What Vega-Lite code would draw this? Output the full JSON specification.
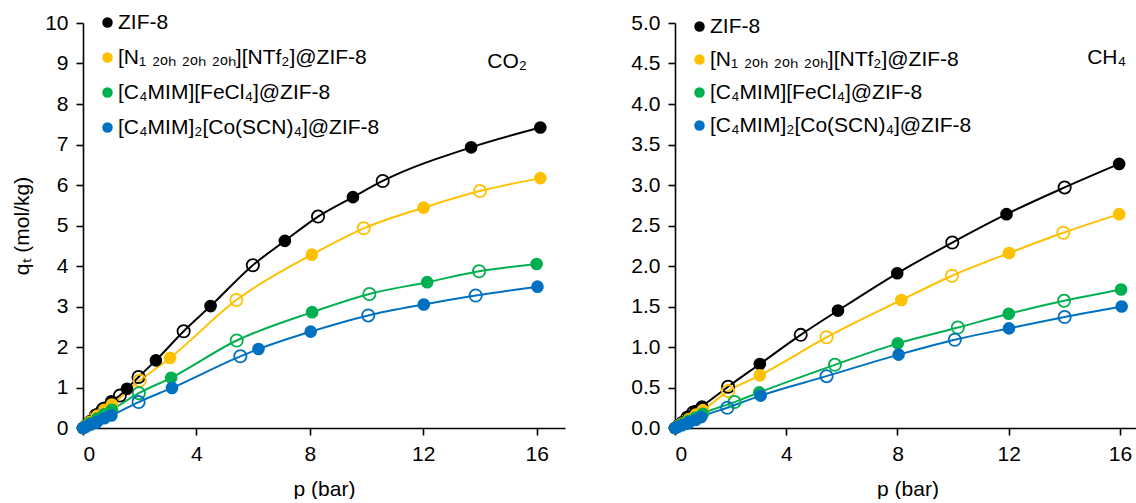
{
  "$schema": "https://vega.github.io/schema/vega-lite/v6.json",
  "padding": {"left": 11, "top": 12, "right": 0, "bottom": 0},
  "background": "white",
  "config": {
    "font": "Liberation Sans",
    "view": {"stroke": null},
    "axis": {
      "grid": false,
      "domainColor": "black",
      "domainWidth": 1.6,
      "tickColor": "black",
      "tickWidth": 1.6,
      "tickSize": 7,
      "labelFontSize": 21,
      "labelColor": "black",
      "labelPadding": 8,
      "titleFontSize": 21,
      "titleFontWeight": "normal",
      "titleColor": "black"
    }
  },
  "datasets": {
    "co2": [
      {"s": "ZIF-8", "b": "a", "p": 0, "q": 0},
      {"s": "ZIF-8", "b": "a", "p": 0.1, "q": 0.07},
      {"s": "ZIF-8", "b": "a", "p": 0.25, "q": 0.17},
      {"s": "ZIF-8", "b": "d", "p": 0.45, "q": 0.31},
      {"s": "ZIF-8", "b": "a", "p": 0.5, "q": 0.34},
      {"s": "ZIF-8", "b": "d", "p": 0.7, "q": 0.46},
      {"s": "ZIF-8", "b": "a", "p": 0.75, "q": 0.5},
      {"s": "ZIF-8", "b": "a", "p": 1.0, "q": 0.66},
      {"s": "ZIF-8", "b": "d", "p": 1.3, "q": 0.8},
      {"s": "ZIF-8", "b": "a", "p": 1.55, "q": 0.97},
      {"s": "ZIF-8", "b": "d", "p": 1.96, "q": 1.26},
      {"s": "ZIF-8", "b": "a", "p": 2.57, "q": 1.67},
      {"s": "ZIF-8", "b": "d", "p": 3.55, "q": 2.39},
      {"s": "ZIF-8", "b": "a", "p": 4.5, "q": 3.01},
      {"s": "ZIF-8", "b": "d", "p": 5.99, "q": 4.02},
      {"s": "ZIF-8", "b": "a", "p": 7.12, "q": 4.62},
      {"s": "ZIF-8", "b": "d", "p": 8.29, "q": 5.22},
      {"s": "ZIF-8", "b": "a", "p": 9.52, "q": 5.7},
      {"s": "ZIF-8", "b": "d", "p": 10.57, "q": 6.1},
      {"s": "ZIF-8", "b": "a", "p": 13.69, "q": 6.93},
      {"s": "ZIF-8", "b": "a", "p": 16.13, "q": 7.42},
      {"s": "N", "b": "a", "p": 0, "q": 0},
      {"s": "N", "b": "a", "p": 0.1, "q": 0.06},
      {"s": "N", "b": "a", "p": 0.25, "q": 0.15},
      {"s": "N", "b": "d", "p": 0.45, "q": 0.27},
      {"s": "N", "b": "a", "p": 0.5, "q": 0.3},
      {"s": "N", "b": "a", "p": 0.75, "q": 0.45},
      {"s": "N", "b": "a", "p": 1.02, "q": 0.58},
      {"s": "N", "b": "d", "p": 2.0, "q": 1.17},
      {"s": "N", "b": "a", "p": 3.07, "q": 1.73},
      {"s": "N", "b": "d", "p": 5.41, "q": 3.16},
      {"s": "N", "b": "a", "p": 8.07, "q": 4.28},
      {"s": "N", "b": "d", "p": 9.9, "q": 4.93},
      {"s": "N", "b": "a", "p": 12.01, "q": 5.44},
      {"s": "N", "b": "d", "p": 14.0, "q": 5.85},
      {"s": "N", "b": "a", "p": 16.13, "q": 6.17},
      {"s": "Fe", "b": "a", "p": 0, "q": 0},
      {"s": "Fe", "b": "a", "p": 0.1, "q": 0.05},
      {"s": "Fe", "b": "a", "p": 0.25, "q": 0.12},
      {"s": "Fe", "b": "d", "p": 0.45, "q": 0.21},
      {"s": "Fe", "b": "a", "p": 0.5, "q": 0.23},
      {"s": "Fe", "b": "a", "p": 0.75, "q": 0.34},
      {"s": "Fe", "b": "a", "p": 1.02, "q": 0.45},
      {"s": "Fe", "b": "d", "p": 1.97, "q": 0.86},
      {"s": "Fe", "b": "a", "p": 3.11, "q": 1.24},
      {"s": "Fe", "b": "d", "p": 5.42, "q": 2.16},
      {"s": "Fe", "b": "a", "p": 8.08, "q": 2.86},
      {"s": "Fe", "b": "d", "p": 10.1, "q": 3.31},
      {"s": "Fe", "b": "a", "p": 12.14, "q": 3.6},
      {"s": "Fe", "b": "d", "p": 13.97, "q": 3.87},
      {"s": "Fe", "b": "a", "p": 16.0, "q": 4.05},
      {"s": "Co", "b": "a", "p": 0, "q": 0},
      {"s": "Co", "b": "a", "p": 0.1, "q": 0.03},
      {"s": "Co", "b": "a", "p": 0.25, "q": 0.08},
      {"s": "Co", "b": "d", "p": 0.45, "q": 0.14},
      {"s": "Co", "b": "a", "p": 0.5, "q": 0.16},
      {"s": "Co", "b": "a", "p": 0.75, "q": 0.24},
      {"s": "Co", "b": "a", "p": 1.0, "q": 0.31},
      {"s": "Co", "b": "d", "p": 1.96, "q": 0.64},
      {"s": "Co", "b": "a", "p": 3.14, "q": 0.99},
      {"s": "Co", "b": "d", "p": 5.55, "q": 1.77},
      {"s": "Co", "b": "a", "p": 6.19, "q": 1.95},
      {"s": "Co", "b": "a", "p": 8.03, "q": 2.38},
      {"s": "Co", "b": "d", "p": 10.06, "q": 2.78},
      {"s": "Co", "b": "a", "p": 12.02, "q": 3.05},
      {"s": "Co", "b": "d", "p": 13.85, "q": 3.27},
      {"s": "Co", "b": "a", "p": 16.03, "q": 3.49}
    ],
    "ch4": [
      {"s": "ZIF-8", "b": "a", "p": 0, "q": 0},
      {"s": "ZIF-8", "b": "a", "p": 0.1, "q": 0.03},
      {"s": "ZIF-8", "b": "a", "p": 0.25, "q": 0.07},
      {"s": "ZIF-8", "b": "d", "p": 0.45, "q": 0.13},
      {"s": "ZIF-8", "b": "a", "p": 0.5, "q": 0.14},
      {"s": "ZIF-8", "b": "d", "p": 0.65, "q": 0.19},
      {"s": "ZIF-8", "b": "a", "p": 0.75, "q": 0.21},
      {"s": "ZIF-8", "b": "a", "p": 0.97, "q": 0.266},
      {"s": "ZIF-8", "b": "d", "p": 1.91, "q": 0.51},
      {"s": "ZIF-8", "b": "a", "p": 3.05, "q": 0.79},
      {"s": "ZIF-8", "b": "d", "p": 4.52, "q": 1.15},
      {"s": "ZIF-8", "b": "a", "p": 5.86, "q": 1.45},
      {"s": "ZIF-8", "b": "a", "p": 7.99, "q": 1.91},
      {"s": "ZIF-8", "b": "d", "p": 9.97, "q": 2.29},
      {"s": "ZIF-8", "b": "a", "p": 11.92, "q": 2.64},
      {"s": "ZIF-8", "b": "d", "p": 14.01, "q": 2.97},
      {"s": "ZIF-8", "b": "a", "p": 15.97, "q": 3.26},
      {"s": "N", "b": "a", "p": 0, "q": 0},
      {"s": "N", "b": "a", "p": 0.1, "q": 0.025},
      {"s": "N", "b": "a", "p": 0.25, "q": 0.055},
      {"s": "N", "b": "d", "p": 0.45, "q": 0.1},
      {"s": "N", "b": "a", "p": 0.5, "q": 0.11},
      {"s": "N", "b": "a", "p": 0.75, "q": 0.165},
      {"s": "N", "b": "a", "p": 1.0, "q": 0.22},
      {"s": "N", "b": "d", "p": 1.91, "q": 0.455},
      {"s": "N", "b": "a", "p": 3.05, "q": 0.65},
      {"s": "N", "b": "d", "p": 5.45, "q": 1.12},
      {"s": "N", "b": "a", "p": 8.14, "q": 1.58},
      {"s": "N", "b": "d", "p": 9.96, "q": 1.88},
      {"s": "N", "b": "a", "p": 12.01, "q": 2.16},
      {"s": "N", "b": "d", "p": 13.96, "q": 2.41},
      {"s": "N", "b": "a", "p": 15.97, "q": 2.64},
      {"s": "Fe", "b": "a", "p": 0, "q": 0},
      {"s": "Fe", "b": "a", "p": 0.1, "q": 0.018},
      {"s": "Fe", "b": "a", "p": 0.25, "q": 0.045},
      {"s": "Fe", "b": "d", "p": 0.45, "q": 0.08},
      {"s": "Fe", "b": "a", "p": 0.5, "q": 0.09},
      {"s": "Fe", "b": "a", "p": 0.75, "q": 0.13},
      {"s": "Fe", "b": "a", "p": 1.0, "q": 0.175},
      {"s": "Fe", "b": "d", "p": 2.14, "q": 0.32},
      {"s": "Fe", "b": "a", "p": 3.03, "q": 0.44},
      {"s": "Fe", "b": "d", "p": 5.75, "q": 0.78},
      {"s": "Fe", "b": "a", "p": 8.01, "q": 1.045},
      {"s": "Fe", "b": "d", "p": 10.17, "q": 1.24},
      {"s": "Fe", "b": "a", "p": 12.0, "q": 1.41},
      {"s": "Fe", "b": "d", "p": 13.99, "q": 1.57},
      {"s": "Fe", "b": "a", "p": 16.04, "q": 1.71},
      {"s": "Co", "b": "a", "p": 0, "q": 0},
      {"s": "Co", "b": "a", "p": 0.1, "q": 0.015},
      {"s": "Co", "b": "a", "p": 0.25, "q": 0.035},
      {"s": "Co", "b": "d", "p": 0.45, "q": 0.063},
      {"s": "Co", "b": "a", "p": 0.5, "q": 0.07},
      {"s": "Co", "b": "a", "p": 0.75, "q": 0.1},
      {"s": "Co", "b": "a", "p": 0.94, "q": 0.135},
      {"s": "Co", "b": "d", "p": 1.88, "q": 0.25},
      {"s": "Co", "b": "a", "p": 3.08, "q": 0.4},
      {"s": "Co", "b": "d", "p": 5.45, "q": 0.64},
      {"s": "Co", "b": "a", "p": 8.04, "q": 0.906},
      {"s": "Co", "b": "d", "p": 10.06, "q": 1.09},
      {"s": "Co", "b": "a", "p": 12.01, "q": 1.23},
      {"s": "Co", "b": "d", "p": 14.01, "q": 1.37},
      {"s": "Co", "b": "a", "p": 16.06, "q": 1.5}
    ]
  },
  "spacing": 65,
  "resolve": {"scale": {"color": "independent", "stroke": "independent", "x": "independent", "y": "independent"}, "legend": {"color": "independent", "stroke": "independent"}},
  "hconcat": [
    {
      "width": 482,
      "height": 405,
      "layer": [
        {
          "data": {"name": "co2"},
          "mark": {"type": "line", "interpolate": "monotone", "strokeWidth": 2},
          "encoding": {
            "x": {"field": "p", "type": "quantitative", "scale": {"domain": [0, 17], "nice": false}, "axis": {"values": [0, 4, 8, 12, 16], "title": "p (bar)", "titlePadding": 14}},
            "y": {"field": "q", "type": "quantitative", "scale": {"domain": [0, 10], "nice": false}, "axis": {"values": [0, 1, 2, 3, 4, 5, 6, 7, 8, 9, 10], "title": "qₜ (mol/kg)", "titlePadding": 12}},
            "stroke": {"field": "s", "type": "nominal", "scale": {"domain": ["Co", "Fe", "N", "ZIF-8"], "range": ["#0070C0", "#00B050", "#FFC000", "#000000"]}, "legend": null},
            "order": {"field": "p", "type": "quantitative"}
          }
        },
        {
          "data": {"name": "co2"},
          "transform": [{"filter": "datum.b == 'd'"}],
          "mark": {"type": "point", "filled": false, "size": 150, "strokeWidth": 1.8, "opacity": 1},
          "encoding": {
            "x": {"field": "p", "type": "quantitative"},
            "y": {"field": "q", "type": "quantitative"},
            "stroke": {"field": "s", "type": "nominal", "scale": {"domain": ["Co", "Fe", "N", "ZIF-8"], "range": ["#0070C0", "#00B050", "#FFC000", "#000000"]}, "legend": null}
          }
        },
        {
          "data": {"name": "co2"},
          "transform": [{"filter": "datum.b == 'a'"}],
          "mark": {"type": "point", "filled": true, "size": 160, "opacity": 1},
          "encoding": {
            "x": {"field": "p", "type": "quantitative"},
            "y": {"field": "q", "type": "quantitative"},
            "color": {"field": "s", "type": "nominal", "scale": {"domain": ["ZIF-8", "N", "Fe", "Co"], "range": ["#000000", "#FFC000", "#00B050", "#0070C0"]},
              "legend": {"orient": "none", "legendX": 14, "legendY": -11, "title": null, "padding": 0, "labelFontSize": 21, "labelColor": "black", "labelLimit": 500, "symbolSize": 110, "symbolType": "circle", "rowPadding": 13, "labelOffset": 0,
                "labelExpr": "datum.label == 'N' ? ' [N₁ ₂ₒₕ ₂ₒₕ ₂ₒₕ][NTf₂]@ZIF-8' : datum.label == 'Fe' ? '[C₄MIM][FeCl₄]@ZIF-8' : datum.label == 'Co' ? '[C₄MIM]₂[Co(SCN)₄]@ZIF-8' : 'ZIF-8'"}}
          }
        },
        {
          "data": {"values": [{}]},
          "mark": {"type": "text", "align": "right", "baseline": "alphabetic", "fontSize": 21, "color": "black"},
          "encoding": {
            "x": {"datum": 15.66, "type": "quantitative"},
            "y": {"datum": 8.9, "type": "quantitative"},
            "text": {"value": "CO₂"}
          }
        }
      ]
    },
    {
      "width": 465,
      "height": 405,
      "layer": [
        {
          "data": {"name": "ch4"},
          "mark": {"type": "line", "interpolate": "monotone", "strokeWidth": 2},
          "encoding": {
            "x": {"field": "p", "type": "quantitative", "scale": {"domain": [0, 16.72], "nice": false}, "axis": {"values": [0, 4, 8, 12, 16], "title": "p (bar)", "titlePadding": 14}},
            "y": {"field": "q", "type": "quantitative", "scale": {"domain": [0, 5], "nice": false}, "axis": {"values": [0, 0.5, 1, 1.5, 2, 2.5, 3, 3.5, 4, 4.5, 5], "format": ".1f", "title": null}},
            "stroke": {"field": "s", "type": "nominal", "scale": {"domain": ["Co", "Fe", "N", "ZIF-8"], "range": ["#0070C0", "#00B050", "#FFC000", "#000000"]}, "legend": null},
            "order": {"field": "p", "type": "quantitative"}
          }
        },
        {
          "data": {"name": "ch4"},
          "transform": [{"filter": "datum.b == 'd'"}],
          "mark": {"type": "point", "filled": false, "size": 150, "strokeWidth": 1.8, "opacity": 1},
          "encoding": {
            "x": {"field": "p", "type": "quantitative"},
            "y": {"field": "q", "type": "quantitative"},
            "stroke": {"field": "s", "type": "nominal", "scale": {"domain": ["Co", "Fe", "N", "ZIF-8"], "range": ["#0070C0", "#00B050", "#FFC000", "#000000"]}, "legend": null}
          }
        },
        {
          "data": {"name": "ch4"},
          "transform": [{"filter": "datum.b == 'a'"}],
          "mark": {"type": "point", "filled": true, "size": 160, "opacity": 1},
          "encoding": {
            "x": {"field": "p", "type": "quantitative"},
            "y": {"field": "q", "type": "quantitative"},
            "color": {"field": "s", "type": "nominal", "scale": {"domain": ["ZIF-8", "N", "Fe", "Co"], "range": ["#000000", "#FFC000", "#00B050", "#0070C0"]},
              "legend": {"orient": "none", "legendX": 14, "legendY": -7, "title": null, "padding": 0, "labelFontSize": 21, "labelColor": "black", "labelLimit": 500, "symbolSize": 110, "symbolType": "circle", "rowPadding": 11, "labelOffset": 0,
                "labelExpr": "datum.label == 'N' ? '[N₁ ₂ₒₕ ₂ₒₕ ₂ₒₕ][NTf₂]@ZIF-8' : datum.label == 'Fe' ? '[C₄MIM][FeCl₄]@ZIF-8' : datum.label == 'Co' ? '[C₄MIM]₂[Co(SCN)₄]@ZIF-8' : 'ZIF-8'"}}
          }
        },
        {
          "data": {"values": [{}]},
          "mark": {"type": "text", "align": "right", "baseline": "alphabetic", "fontSize": 21, "color": "black"},
          "encoding": {
            "x": {"datum": 16.22, "type": "quantitative"},
            "y": {"datum": 4.5, "type": "quantitative"},
            "text": {"value": "CH₄"}
          }
        }
      ]
    }
  ]
}
